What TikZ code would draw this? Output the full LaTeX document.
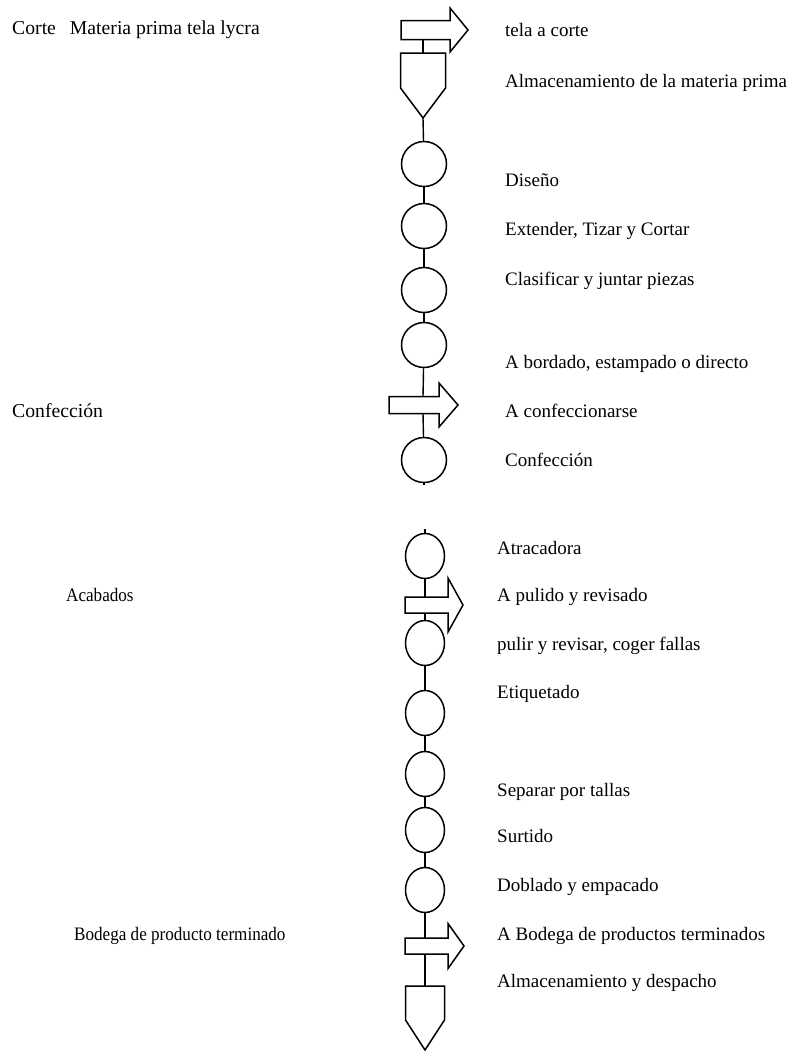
\documentclass[tikz,border=0pt]{standalone}
\usepackage{fontspec}
\setmainfont{Liberation Serif}
\newfontfamily\narrowserif[FakeStretch=0.9]{Liberation Serif}
\usetikzlibrary{shapes.geometric}

\tikzset{
  shapeline/.style={line width=1.5pt, fill=white},
  % left end, head base, tip, half body, half head
  pics/procarrow/.style n args={5}{code={
    \draw[shapeline] (#1,-#4) -- (#2,-#4) -- (#2,-#5) -- (#3,0)
      -- (#2,#5) -- (#2,#4) -- (#1,#4) -- cycle;
    \coordinate (-top) at (0,-#4);
    \coordinate (-bot) at (0,#4);
  }},
  % half width, side, point depth
  pics/storage/.style n args={3}{code={
    \draw[shapeline] (-#1,0) -- (#1,0) -- (#1,#2) -- (0,#2+#3)
      -- (-#1,#2) -- cycle;
    \coordinate (-top) at (0,0);
    \coordinate (-bot) at (0,#2+#3);
  }}
}

\begin{document}
\begin{tikzpicture}[
    x=1pt, y=-1pt,
    opcirc/.style={ellipse, draw, line width=1.5pt, inner sep=0pt,
                   minimum width=45pt, minimum height=45pt},
    opcircb/.style={opcirc, minimum width=39pt},
    link/.style={line width=1.4pt},
    lbl/.style={anchor=base west, inner sep=0pt,
                font=\fontsize{19}{22}\selectfont},
    sect/.style={lbl, font=\fontsize{19.7}{23}\selectfont},
    sectb/.style={lbl, font=\narrowserif\fontsize{19}{22}\selectfont}
  ]
  \useasboundingbox (0,0) rectangle (801,1053);

  % corte
  \pic (arrA) at (423,30) {procarrow={-22}{27}{45}{9.5}{22}};
  \pic (stoA) at (423,53) {storage={22.5}{35}{30}};
  \node[opcirc] (dis) at (424,164) {};
  \node[opcirc] (ext) at (424,226) {};
  \node[opcirc] (cla) at (424,290) {};
  \node[opcirc] (bor) at (424,345) {};

  % confeccion
  \pic (arrB) at (423,405) {procarrow={-34}{16}{35}{8.5}{22}};
  \node[opcirc] (con) at (424,460) {};
  \coordinate (conTick) at (424,485);

  % acabados
  \coordinate (atrTick) at (425,529);
  \node[opcircb] (atr) at (425,556) {};
  \pic (arrC) at (425,605) {procarrow={-20}{23}{38}{8}{27}};
  \node[opcircb] (pul) at (425,643) {};
  \node[opcircb] (eti) at (425,713) {};
  \node[opcircb] (sep) at (425,774) {};
  \node[opcircb] (sur) at (425,830) {};
  \node[opcircb] (dob) at (425,890) {};

  % bodega
  \pic (arrD) at (425,946) {procarrow={-20}{23}{39}{8}{22.5}};
  \pic (stoB) at (425,986) {storage={19.5}{34}{30}};

  \draw[link] (arrA-bot) -- (stoA-top);
  \draw[link] (stoA-bot) -- (dis);
  \draw[link] (dis) -- (ext);
  \draw[link] (ext) -- (cla);
  \draw[link] (cla) -- (bor);
  \draw[link] (bor) -- (arrB-top);
  \draw[link] (arrB-bot) -- (con);
  \draw[link] (con) -- (conTick);
  \draw[link] (atrTick) -- (atr);
  \draw[link] (atr) -- (arrC-top);
  \draw[link] (arrC-bot) -- (pul);
  \draw[link] (pul) -- (eti);
  \draw[link] (eti) -- (sep);
  \draw[link] (sep) -- (sur);
  \draw[link] (sur) -- (dob);
  \draw[link] (dob) -- (arrD-top);
  \draw[link] (arrD-bot) -- (stoB-top);

  % left labels
  \node[sect]  (tCorte) at (12,34)  {Corte\hspace{14pt}Materia prima tela lycra};
  \node[sect]  (tConf)  at (12,417) {Confección};
  \node[sectb] (tAcab)  at (66,601) {Acabados};
  \node[sectb] (tBod)   at (74,940) {Bodega de producto terminado};

  % right labels
  \node[lbl] (lTela) at (505,36)  {tela a corte};
  \node[lbl] (lAlm)  at (505,87)  {Almacenamiento de la materia prima};
  \node[lbl] (lDis)  at (505,186) {Diseño};
  \node[lbl] (lExt)  at (505,235) {Extender, Tizar y Cortar};
  \node[lbl] (lCla)  at (505,285) {Clasificar y juntar piezas};
  \node[lbl] (lBor)  at (505,368) {A bordado, estampado o directo};
  \node[lbl] (lAco)  at (505,417) {A confeccionarse};
  \node[lbl] (lCon)  at (505,466) {Confección};
  \node[lbl] (lAtr)  at (497,554) {Atracadora};
  \node[lbl] (lApu)  at (497,601) {A pulido y revisado};
  \node[lbl] (lPul)  at (497,650) {pulir y revisar, coger fallas};
  \node[lbl] (lEti)  at (497,698) {Etiquetado};
  \node[lbl] (lSep)  at (497,796) {Separar por tallas};
  \node[lbl] (lSur)  at (497,842) {Surtido};
  \node[lbl] (lDob)  at (497,891) {Doblado y empacado};
  \node[lbl] (lABo)  at (497,940) {A Bodega de productos terminados};
  \node[lbl] (lAde)  at (497,987) {Almacenamiento y despacho};
\end{tikzpicture}
\end{document}
